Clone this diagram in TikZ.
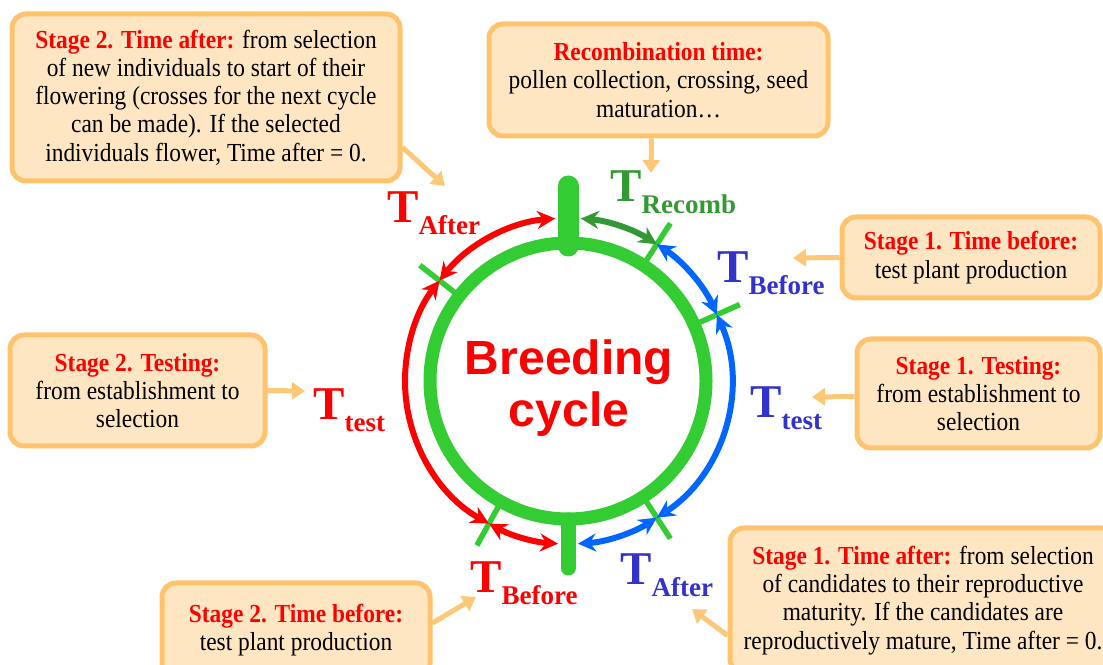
\documentclass[tikz,border=0pt]{standalone}
\usepackage{fontspec}
\setmainfont{Liberation Serif}
\newfontfamily\boxfont[FakeStretch=0.9]{Liberation Serif}
\newfontfamily\ringfont{Liberation Sans}
\usetikzlibrary{arrows.meta, positioning, calc}

\definecolor{ringgreen}{HTML}{33CC33}
\definecolor{recombgreen}{HTML}{339933}
\definecolor{arcblue}{HTML}{0066FF}
\definecolor{labelblue}{HTML}{3333CC}
\definecolor{boxfill}{HTML}{FFE6C3}
\definecolor{boxedge}{HTML}{FFC36E}
\definecolor{pointerorange}{HTML}{FFC878}

\newcommand{\tlab}[1]{{\fontsize{47}{47}\selectfont T}\raisebox{-12pt}{\fontsize{27}{27}\selectfont #1}}

\begin{document}
\begin{tikzpicture}[x=1pt, y=1pt,
    infobox/.style={draw=boxedge, fill=boxfill, line width=5pt, rounded corners=14pt,
        align=center, inner sep=0pt, font=\boxfont\fontsize{26}{28.3}\selectfont},
    pointer/.style={draw=pointerorange, line width=5pt, -{Triangle[length=13pt, width=17pt]}},
    phasetick/.style={ringgreen, line width=5.5pt},
    timearc/.style={line width=6pt, {Stealth[length=18pt, width=18pt, inset=6pt]}-{Stealth[length=18pt, width=18pt, inset=6pt]}},
    tlabel/.style={anchor=base west, inner sep=0pt, font=\bfseries}]
    \useasboundingbox (0,0) rectangle (1103,664);
    \clip (0,0) rectangle (1103,664);

    % ring
    \coordinate (C) at (568,283);
    \draw[ringgreen, line width=13pt] (C) circle[radius=138];
    \draw[ringgreen, line width=21pt, line cap=round] (568,478) -- (568,418);
    \draw[ringgreen, line width=15pt, line cap=round] (568,144) -- (568,96);
    \foreach \a in {57, 24, -57, -119, 142}
        \draw[phasetick] ($(C)+(\a:140)$) -- ($(C)+(\a:188)$);

    % breeding cycle
    \node[font=\ringfont\bfseries\fontsize{48}{52}\selectfont, text=red, anchor=base, inner sep=0pt] (title1) at (569,289) {Breeding};
    \node[font=\ringfont\bfseries\fontsize{48}{52}\selectfont, text=red, anchor=base, inner sep=0pt] (title2) at (569,237) {cycle};

    % arcs
    \coordinate (aftA) at ($(C)+(142:163)$);
    \coordinate (recA) at ($(C)+(85.5:163)$);
    \coordinate (befA) at ($(C)+(57:163)$);
    \coordinate (tstA) at ($(C)+(24:163)$);
    \coordinate (aftB) at ($(C)+(-57:163)$);
    \coordinate (befB) at ($(C)+(-93.5:163)$);
    \coordinate (tstB) at ($(C)+(-119:163)$);
    \draw[timearc, red] (aftA) arc[start angle=142, end angle=94.5, radius=163];
    \draw[timearc, recombgreen] (recA) arc[start angle=85.5, end angle=57, radius=163];
    \draw[timearc, arcblue] (befA) arc[start angle=57, end angle=24, radius=163];
    \draw[timearc, arcblue] (tstA) arc[start angle=24, end angle=-57, radius=163];
    \draw[timearc, arcblue] (aftB) arc[start angle=-57, end angle=-86.5, radius=163];
    \draw[timearc, red] (befB) arc[start angle=-93.5, end angle=-119, radius=163];
    \draw[timearc, red] (tstB) arc[start angle=-119, end angle=-218, radius=163];

    % time labels
    \node[tlabel, text=red] (lblaft2) at (387,441) {\tlab{After}};
    \node[tlabel, text=recombgreen] (lblrec) at (610,462) {\tlab{Recomb}};
    \node[tlabel, text=labelblue] (lblbef1) at (717,381) {\tlab{Before}};
    \node[tlabel, text=labelblue] (lbltst1) at (750,246) {\tlab{test}};
    \node[tlabel, text=red] (lbltst2) at (313,244) {\tlab{test}};
    \node[tlabel, text=red] (lblbef2) at (470,71) {\tlab{Before}};
    \node[tlabel, text=labelblue] (lblaft1) at (620,79) {\tlab{After}};

    % boxes
    \node[infobox, minimum width=388pt, minimum height=167pt] (s2after) at (206,566.5)
        {\textcolor{red}{\bfseries Stage 2. Time after:} from selection\\
         of new individuals to start of their\\
         flowering (crosses for the next cycle\\
         can be made). If the selected\\
         individuals flower, Time after = 0.};
    \node[infobox, minimum width=339pt, minimum height=112pt] (recomb) at (658.5,584)
        {\textcolor{red}{\bfseries Recombination time:}\\
         pollen collection, crossing, seed\\
         maturation…};
    \node[infobox, minimum width=258pt, minimum height=81pt] (s1before) at (971,406.5)
        {\textcolor{red}{\bfseries Stage 1. Time before:}\\
         test plant production};
    \node[infobox, minimum width=255pt, minimum height=111pt] (s2test) at (137.5,273.5)
        {\textcolor{red}{\bfseries Stage 2. Testing:}\\
         from establishment to\\
         selection};
    \node[infobox, minimum width=243pt, minimum height=109pt] (s1test) at (978.5,270.5)
        {\textcolor{red}{\bfseries Stage 1. Testing:}\\
         from establishment to\\
         selection};
    \node[infobox, minimum width=268pt, minimum height=94pt] (s2before) at (296,34)
        {\textcolor{red}{\bfseries Stage 2. Time before:}\\
         test plant production};
    \node[infobox, minimum width=386pt, minimum height=145pt] (s1after) at (923,63.5)
        {\textcolor{red}{\bfseries Stage 1. Time after:} from selection\\
         of candidates to their reproductive\\
         maturity. If the candidates are\\
         reproductively mature, Time after = 0.};

    % pointers
    \coordinate (tip1) at (445,478);
    \coordinate (tip2) at (651,491);
    \coordinate (tip3) at (793,406);
    \coordinate (tip4) at (305,273);
    \coordinate (tip5) at (812,267);
    \coordinate (tip6) at (476,67);
    \coordinate (tip7) at (692,55);
    \draw[pointer] ([yshift=-50pt]s2after.east) -- (tip1);
    \draw[pointer] ([xshift=-7pt]recomb.south) -- (tip2);
    \draw[pointer] (s1before.west) -- (tip3);
    \draw[pointer] (s2test.east) -- (tip4);
    \draw[pointer] ([yshift=-3pt]s1test.west) -- (tip5);
    \draw[pointer] ([yshift=7pt]s2before.east) -- (tip6);
    \draw[pointer] ([yshift=-35pt]s1after.west) -- (tip7);
\end{tikzpicture}
\end{document}
